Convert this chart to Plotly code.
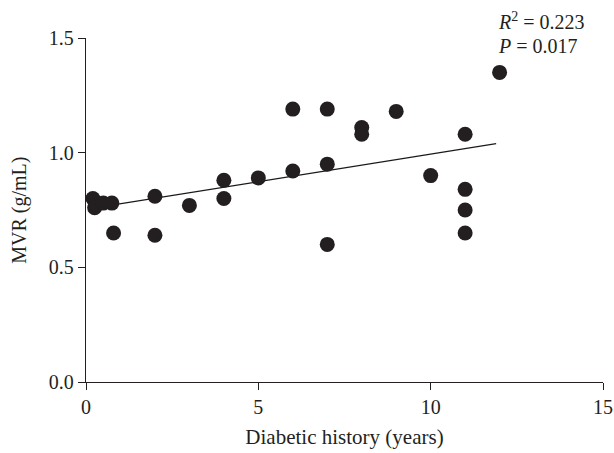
import numpy as np
import plotly.graph_objects as go

diabetic_years = [0.2, 0.25, 0.5, 0.75, 0.8, 2, 2, 3, 4, 4, 5, 6, 6, 7, 7, 7,
                  8, 8, 9, 10, 11, 11, 11, 11, 12]
mvr = [0.80, 0.76, 0.78, 0.78, 0.65, 0.81, 0.64, 0.77, 0.88, 0.80, 0.89, 1.19, 0.92,
       1.19, 0.95, 0.60, 1.11, 1.08, 1.18, 0.90, 1.08, 0.84, 0.75, 0.65, 1.35]

x_ticks = [0, 5, 10, 15]
y_ticks = [0.0, 0.5, 1.0, 1.5]
y_tick_labels = ["0.0", "0.5", "1.0", "1.5"]

# Linear fit
slope, intercept = np.polyfit(diabetic_years, mvr, 1)
fit_x = np.array([min(diabetic_years), 11.9])
fit_y = intercept + slope * fit_x

FONT = "Liberation Serif"
INK = "#231f20"

fig = go.Figure()
fig.add_trace(go.Scatter(x=fit_x, y=fit_y, mode="lines",
                         line=dict(color="#1a1a1a", width=1.3), showlegend=False))
fig.add_trace(go.Scatter(x=diabetic_years, y=mvr, mode="markers",
                         marker=dict(color=INK, size=15, line=dict(width=0)),
                         showlegend=False))

fig.add_annotation(xref="x", yref="paper", x=11.9, y=1.049, xanchor="left", yanchor="middle",
                   showarrow=False, align="left",
                   text="<i>R</i><sup>2</sup> = 0.223",
                   font=dict(family=FONT, size=20, color=INK))
fig.add_annotation(xref="x", yref="paper", x=11.9, y=0.977, xanchor="left", yanchor="middle",
                   showarrow=False, align="left",
                   text="<i>P</i> = 0.017",
                   font=dict(family=FONT, size=20, color=INK))
# y-axis title
fig.add_annotation(xref="paper", yref="paper", x=-0.13, y=0.5, xanchor="center",
                   yanchor="middle", textangle=-90, showarrow=False,
                   text="MVR (g/mL)", font=dict(family=FONT, size=20, color=INK))

axis_common = dict(showline=True, linecolor=INK, linewidth=1.3, ticks="outside",
                   ticklen=7, tickwidth=1.3, tickcolor=INK, showgrid=False,
                   zeroline=False, tickfont=dict(family=FONT, size=20, color=INK),
                   mirror=False, automargin=False)

fig.update_layout(
    width=614, height=453,
    margin=dict(l=86, r=11, t=38, b=71),
    paper_bgcolor="white", plot_bgcolor="white",
    xaxis=dict(range=[0, 15], tickvals=x_ticks, title=dict(
        text="Diabetic history (years)", font=dict(family=FONT, size=21, color=INK),
        standoff=12), **axis_common),
    yaxis=dict(range=[0, 1.5], tickvals=y_ticks, ticktext=y_tick_labels, **axis_common),
)
fig.update_traces(cliponaxis=False)

fig.write_html("out.html", config={"displayModeBar": False},
               post_script="document.body.style.margin='0';")
